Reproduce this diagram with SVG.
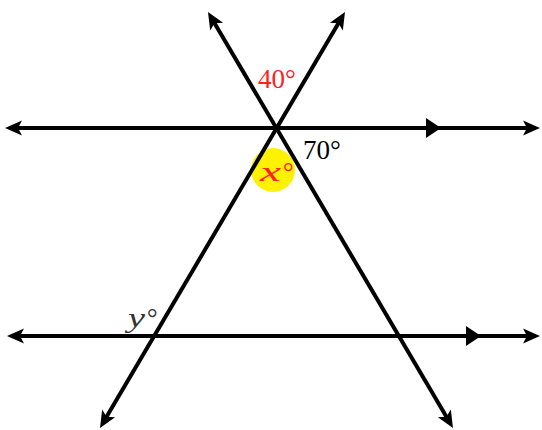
<svg xmlns="http://www.w3.org/2000/svg" width="542" height="430" viewBox="0 0 542 430">
<style>
.ln{stroke:#000;stroke-width:4;fill:none;marker-start:url(#ah);marker-end:url(#ah)}
.lbl{font-family:"Liberation Serif","Times New Roman",serif;font-size:27px}
.red{fill:#ff2020}
.it{font-style:italic}
</style>
<defs>
<marker id="ah" markerUnits="userSpaceOnUse" viewBox="-10 -10 20 20" markerWidth="20" markerHeight="20" refX="0" refY="0" orient="auto-start-reverse">
<path d="M8,0 L-9,-7.5 L-5,0 L-9,7.5 Z" fill="#000"/>
</marker>
</defs>
<rect width="542" height="430" fill="#fff"/>
<g id="highlight"><circle cx="273" cy="170" r="22" fill="#fff200"/></g>
<g id="connectors">
<line class="ln" x1="13" y1="128" x2="532" y2="128"/>
<line class="ln" x1="15" y1="336" x2="532" y2="336"/>
<line class="ln" x1="104.06" y1="421.11" x2="340.94" y2="18.89"/>
<line class="ln" x1="212.06" y1="18.89" x2="448.94" y2="421.11"/>
<polygon points="426,118 441,128 426,138" fill="#000"/>
<polygon points="466,326 481,336 466,346" fill="#000"/>
</g>
<g id="label-40"><text class="lbl red" x="258" y="88">40°</text></g>
<g id="label-70"><text class="lbl" x="303" y="159" fill="#000">70°</text></g>
<g id="label-x"><text class="lbl red it" x="260" y="181"><tspan textLength="21" lengthAdjust="spacingAndGlyphs">x</tspan><tspan x="282">°</tspan></text></g>
<g id="label-y"><text class="lbl it" x="128" y="327" fill="#333"><tspan textLength="17" lengthAdjust="spacingAndGlyphs">y</tspan><tspan x="146">°</tspan></text></g>
</svg>
